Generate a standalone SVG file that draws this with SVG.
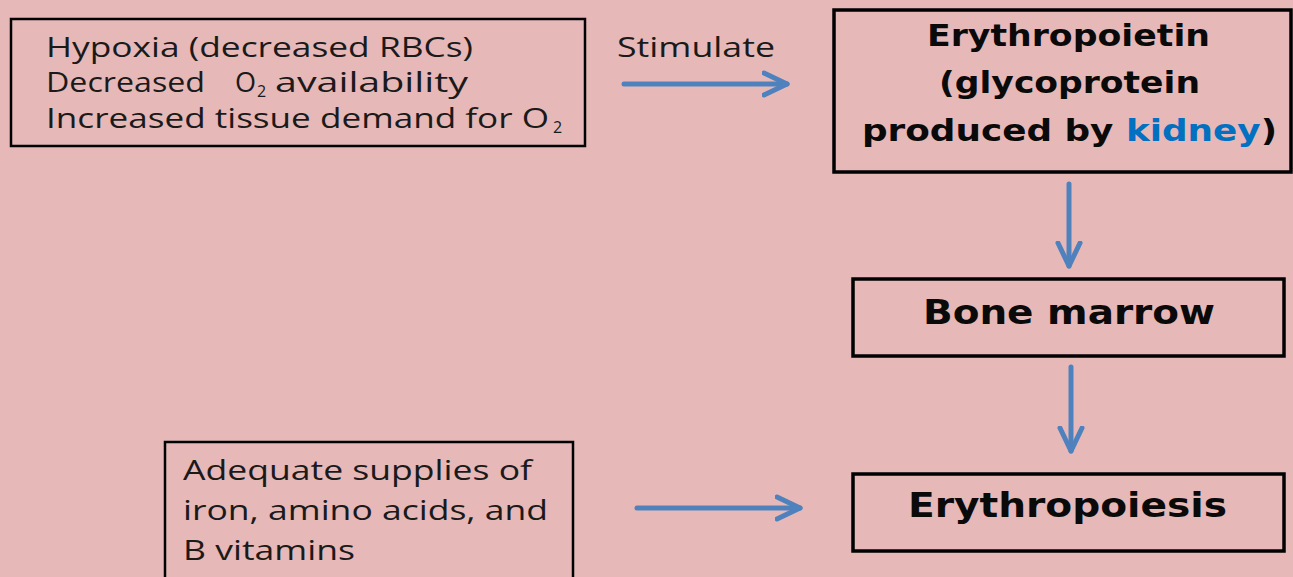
<svg xmlns="http://www.w3.org/2000/svg" width="1293" height="577" viewBox="0 0 1293 577">
  <defs>
    <marker id="chev" markerUnits="userSpaceOnUse" viewBox="0 0 30 30" refX="25" refY="15" markerWidth="30" markerHeight="30" orient="auto">
      <path d="M2,4 L25,15 L2,26" fill="none" stroke="#4f81bd" stroke-width="5" stroke-linecap="round" stroke-linejoin="round"/>
    </marker>
  </defs>
  <style>
    .box { fill: none; stroke: #000; }
    .thin { stroke-width: 2.5; }
    .thick { stroke-width: 3.5; }
    .reg { font-family: "Open Sans", "Liberation Sans", sans-serif; font-size: 27px; fill: #1a1a1a; }
    .bold { font-family: "DejaVu Sans", "Liberation Sans", sans-serif; font-weight: bold; fill: #0a0a0a; }
    .sub { font-size: 16px; }
    .conn { stroke: #4f81bd; stroke-width: 5; fill: none; stroke-linecap: round; marker-end: url(#chev); }
  </style>
  <rect width="1293" height="577" fill="#e6b8b8"/>

  <g id="causes">
    <rect class="box thin" x="11" y="19" width="574" height="127"/>
    <text class="reg" x="46" y="57" textLength="427" lengthAdjust="spacingAndGlyphs">Hypoxia (decreased RBCs)</text>
    <text class="reg" x="46" y="92"><tspan textLength="159" lengthAdjust="spacingAndGlyphs">Decreased</tspan><tspan x="235">O</tspan><tspan class="sub" x="257" dy="5">2</tspan><tspan x="275" dy="-5" textLength="193" lengthAdjust="spacingAndGlyphs">availability</tspan></text>
    <text class="reg" x="46" y="128"><tspan textLength="503" lengthAdjust="spacingAndGlyphs">Increased tissue demand for O</tspan><tspan class="sub" x="553" dy="5">2</tspan></text>
  </g>

  <g id="stimulate-label">
    <text class="reg" x="617" y="57" font-size="26" textLength="158" lengthAdjust="spacingAndGlyphs">Stimulate</text>
  </g>

  <g id="erythropoietin">
    <rect class="box thick" x="834" y="10" width="457" height="162"/>
    <text class="bold" x="927" y="46" font-size="31" textLength="283" lengthAdjust="spacingAndGlyphs">Erythropoietin</text>
    <text class="bold" x="939" y="93" font-size="31" textLength="261" lengthAdjust="spacingAndGlyphs">(glycoprotein</text>
    <text class="bold" x="862" y="141" font-size="31" textLength="415" lengthAdjust="spacingAndGlyphs">produced by <tspan fill="#0070c0">kidney</tspan>)</text>
  </g>

  <g id="bone-marrow">
    <rect class="box thick" x="853" y="279" width="431" height="77"/>
    <text class="bold" x="923" y="324" font-size="33" textLength="292" lengthAdjust="spacingAndGlyphs">Bone marrow</text>
  </g>

  <g id="erythropoiesis">
    <rect class="box thick" x="853" y="474" width="431" height="77"/>
    <text class="bold" x="908" y="517" font-size="34" textLength="319" lengthAdjust="spacingAndGlyphs">Erythropoiesis</text>
  </g>

  <g id="nutrients">
    <rect class="box thin" x="165" y="442" width="408" height="150"/>
    <text class="reg" x="183" y="480" textLength="349" lengthAdjust="spacingAndGlyphs">Adequate supplies of</text>
    <text class="reg" x="183" y="520" textLength="365" lengthAdjust="spacingAndGlyphs">iron, amino acids, and</text>
    <text class="reg" x="183" y="560" textLength="172" lengthAdjust="spacingAndGlyphs">B vitamins</text>
  </g>

  <g id="connectors">
    <line class="conn" x1="624" y1="84" x2="787" y2="84"/>
    <line class="conn" x1="1069" y1="184" x2="1069" y2="266"/>
    <line class="conn" x1="1071" y1="367" x2="1071" y2="451"/>
    <line class="conn" x1="637" y1="508" x2="800" y2="508"/>
  </g>
</svg>
